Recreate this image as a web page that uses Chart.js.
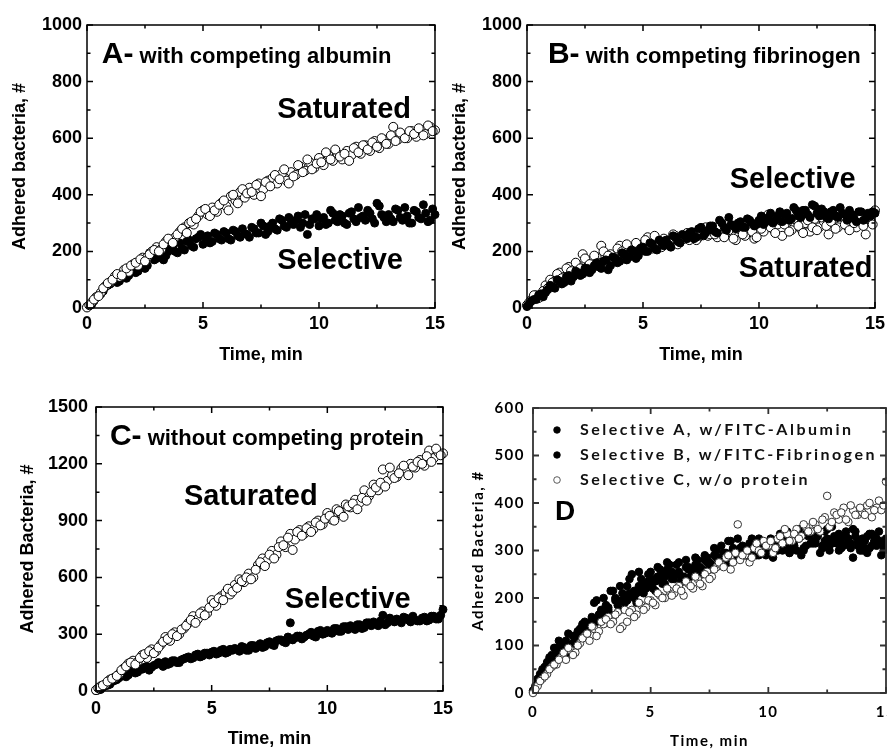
<!DOCTYPE html>
<html>
<head>
<meta charset="utf-8">
<script src="https://cdn.jsdelivr.net/npm/chart.js@4.4.1/dist/chart.umd.min.js"></script>
<style>
  html, body { margin: 0; padding: 0; background: #fff; overflow: hidden; width: 887px; height: 750px; }
  canvas { position: absolute; }
</style>
</head>
<body>
<canvas id="cA" width="450" height="375" style="left:0;top:0"></canvas>
<canvas id="cB" width="450" height="375" style="left:440px;top:0"></canvas>
<canvas id="cC" width="460" height="370" style="left:0;top:380px"></canvas>
<canvas id="cD" width="470" height="370" style="left:440px;top:380px"></canvas>
<script>
// time points, min (two interleaved sampling grids)
const time = [0,0.2,0.4,0.6,0.8,1,1.2,1.4,1.6,1.8,2,2.2,2.4,2.6,2.8,3,3.2,3.4,3.6,3.8,
  4,4.2,4.4,4.6,4.8,5,5.2,5.4,5.6,5.8,6,6.2,6.4,6.6,6.8,7,7.2,7.4,7.6,7.8,
  8,8.2,8.4,8.6,8.8,9,9.2,9.4,9.6,9.8,10,10.2,10.4,10.6,10.8,11,11.2,11.4,11.6,11.8,
  12,12.2,12.4,12.6,12.8,13,13.2,13.4,13.6,13.8,14,14.2,14.4,14.6,14.8,15];
const time2 = [0.1,0.3,0.5,0.7,0.9,1.1,1.3,1.5,1.7,1.9,2.1,2.3,2.5,2.7,2.9,3.1,3.3,3.5,3.7,3.9,
  4.1,4.3,4.5,4.7,4.9,5.1,5.3,5.5,5.7,5.9,6.1,6.3,6.5,6.7,6.9,7.1,7.3,7.5,7.7,7.9,
  8.1,8.3,8.5,8.7,8.9,9.1,9.3,9.5,9.7,9.9,10.1,10.3,10.5,10.7,10.9,11.1,11.3,11.5,11.7,11.9,
  12.1,12.3,12.5,12.7,12.9,13.1,13.3,13.5,13.7,13.9,14.1,14.3,14.5,14.7,14.9];

// A - with competing albumin
const satA = [2,20,38,55,78, 92,112,110,135,128, 155,150,178,180,200, 215,208,235,240,250,
  270,285,300,295,325, 345,330,355,340,372, 360,395,380,410,390, 425,400,440,420,450,
  460,440,475,450,480, 470,500,485,515,495, 530,505,540,520,545, 525,555,540,570,545,
  575,555,590,565,595, 580,640,595,610,600, 625,605,630,615,640, 628];
const satA2 = [10,30,42,70,88, 100,120,115,140,150, 160,172,165,190,205, 200,225,245,230,260,
  280,265,305,315,340, 350,325,345,365,380, 345,400,370,420,405, 410,435,395,445,430,
  470,455,490,440,465, 505,480,525,490,510, 515,550,525,560,535, 545,520,565,550,575,
  560,585,570,600,580, 610,590,620,600,625, 615,635,610,645,625];
const selA = [5,12,40,50,75, 85,110,95,125,115, 140,130,165,150,185, 175,195,185,210,200,
  230,205,240,215,250, 225,255,235,260,240, 265,240,270,250,262, 250,280,265,290,270,
  300,275,310,285,305, 310,285,330,295,315, 290,320,300,335,305, 325,295,340,305,320,
  310,335,300,360,320, 330,305,345,310,325, 300,340,315,335,310, 330];
const selA2 = [8,25,45,60,80, 100,90,120,105,130, 125,150,140,195,170, 185,170,200,220,195,
  210,235,220,245,260, 250,230,265,245,270, 245,275,255,280,260, 285,265,300,260,290,
  280,315,290,320,295, 325,300,260,315,330, 315,295,345,310,330, 300,335,315,355,325,
  345,315,370,330,305, 315,350,320,355,300, 345,320,365,305,350];

// B - with competing fibrinogen
const selB = [5,25,30,50,55, 80,70,95,90,115, 110,125,120,140,135, 160,140,170,150,175,
  165,190,180,200,185, 215,200,225,205,230, 240,215,250,230,255, 265,245,280,255,275,
  290,265,300,275,295, 280,305,285,310,290, 310,295,320,300,325, 305,335,315,345,320,
  345,320,360,325,340, 315,345,320,335,310, 330,305,340,315,325, 335];
const selB2 = [15,30,45,40,65, 75,100,85,110,95, 130,115,140,125,150, 145,165,135,180,160,
  195,170,205,175,210, 200,230,210,240,220, 225,255,235,260,245, 270,250,285,265,290,
  270,310,285,320,290, 300,285,315,300,295, 325,305,335,310,340, 330,310,355,325,345,
  330,365,335,350,320, 340,325,355,330,345, 315,340,310,335,340];
const satB = [10,30,45,40,80, 100,95,125,110,145, 135,150,190,145,170, 180,220,165,190,175,
  220,190,205,215,200, 225,250,210,230,215, 240,220,255,235,245, 240,265,250,280,255,
  275,250,285,260,270, 240,285,255,290,245, 300,270,330,280,295, 255,300,275,310,280,
  300,270,315,285,305, 260,310,285,320,290, 315,285,330,260,310, 345];
const satB2 = [20,45,35,60,70, 90,120,105,140,130, 160,140,175,155,185, 160,200,185,175,210,
  200,225,195,230,210, 240,215,255,225,245, 235,260,225,250,265, 255,240,270,285,260,
  260,290,250,275,245, 280,260,295,270,250, 280,305,285,265,310, 295,270,315,290,265,
  310,285,275,320,290, 305,280,325,295,275, 300,325,290,315,295];

// C - without competing protein
const satC = [5,25,35,60,70, 90,120,145,160,155, 190,175,220,210,245, 285,265,310,300,330,
  360,395,380,420,410, 480,450,500,520,510, 560,590,575,620,600, 665,700,690,740,720,
  790,760,830,800,850, 830,870,855,900,880, 940,905,960,935,985, 970,1010,995,1060,1030,
  1090,1060,1170,1110,1140, 1130,1175,1160,1200,1180, 1220,1190,1270,1230,1260, 1255];
const satC2 = [15,30,50,65,80, 110,130,150,140,175, 195,210,200,230,260, 275,300,290,325,345,
  375,360,410,400,440, 465,490,480,540,525, 545,580,600,590,640, 680,660,720,700,760,
  770,810,745,840,820, 860,840,890,875,910, 925,900,950,920,975, 990,960,1020,1005,1050,
  1075,1100,1080,1180,1125, 1150,1190,1140,1185,1210, 1200,1240,1210,1280,1245];
const selC = [2,8,28,35,55, 70,90,85,105,100, 115,130,125,140,145, 155,145,160,150,170,
  180,175,195,185,200, 205,195,215,200,220, 225,210,230,215,240, 240,230,255,245,265,
  270,255,360,280,290, 285,300,290,315,300, 320,305,330,315,340, 345,325,350,335,360,
  365,345,400,360,375, 380,360,385,365,375, 370,390,375,395,380, 430];
const selC2 = [5,20,30,50,60, 80,75,100,95,115, 125,110,135,150,130, 140,160,150,165,175,
  170,190,180,200,190, 210,200,220,205,215, 220,235,215,240,225, 250,235,260,240,270,
  260,285,270,290,275, 295,310,285,320,305, 310,330,315,340,325, 335,350,330,360,345,
  355,370,350,385,365, 370,390,375,395,370, 385,370,395,380,400];

// D - selective comparison
const selDA = [5,30,50,65,80, 95,85,110,100,120, 135,150,140,190,165, 200,180,215,195,210,
  225,250,210,240,230, 255,235,260,245,270, 250,275,245,265,255, 280,260,285,270,300,
  310,285,320,295,305, 290,315,300,325,295, 310,285,320,300,340, 305,325,290,335,315,
  320,295,340,310,325, 300,330,315,345,310, 325,295,335,310,320, 315];
const selDA2 = [15,40,55,75,95, 110,90,125,105,130, 145,130,160,195,175, 185,215,200,225,190,
  240,215,255,230,250, 240,265,250,275,255, 270,245,280,260,285, 265,290,275,305,285,
  295,320,300,325,310, 300,325,290,315,305, 325,300,335,310,295, 320,345,305,330,315,
  335,305,325,350,315, 320,340,305,330,315, 305,335,320,340,310];
const selDB = [2,20,40,55,70, 80,95,75,100,110, 120,130,145,135,160, 165,175,160,185,195,
  195,205,190,215,220, 225,215,240,230,250, 240,255,235,260,250, 265,250,275,260,285,
  280,295,275,300,290, 300,285,310,290,305, 295,315,300,325,310, 320,300,330,310,335,
  315,340,320,300,330, 335,310,325,285,320, 300,330,310,325,290, 325];
const selDB2 = [10,30,50,60,75, 90,105,85,120,100, 140,125,155,150,170, 180,165,195,175,205,
  210,200,225,210,235, 220,245,230,260,240, 250,235,265,245,270, 255,280,265,290,275,
  290,275,305,285,300, 295,315,300,320,290, 320,305,330,310,295, 310,325,300,335,320,
  330,310,345,315,325, 305,330,315,340,300, 320,305,330,315,300];
const openDC = [0,15,30,40,55, 60,75,70,90,85, 105,120,110,135,130, 145,160,150,170,140,
  150,175,165,185,180, 195,185,205,200,215, 210,225,205,230,220, 240,225,255,245,265,
  270,285,260,295,280, 290,275,305,300,320, 310,295,325,315,335, 320,345,330,350,340,
  355,340,370,350,380, 365,390,360,385,375, 380,395,370,390,385, 445];
const openDC2 = [8,25,35,50,60, 70,85,95,80,100, 115,125,140,120,150, 155,145,165,135,175,
  170,160,190,175,195, 190,210,200,220,205, 220,215,235,225,245, 230,250,240,260,275,
  265,290,275,355,290, 300,285,315,295,310, 320,305,330,345,320, 335,325,355,340,360,
  345,365,415,360,375, 380,365,395,375,390, 375,400,385,405,395];

const labelsD = ['Selective A, w/FITC-Albumin', 'Selective B, w/FITC-Fibrinogen', 'Selective C, w/o protein'];

const ARIAL = '"Liberation Sans", Arial, sans-serif';
const LATO = 'Lato, "Open Sans", sans-serif';

function pts(vals, vals2) {
  return time.map((t, i) => ({ x: t, y: vals[i] }))
    .concat(time2.map((t, i) => ({ x: t, y: vals2[i] })));
}
function filled(label, vals, vals2, r, order) {
  return { label, data: pts(vals, vals2), pointRadius: r, pointHoverRadius: r,
    backgroundColor: '#000', borderColor: '#000', borderWidth: 1, clip: false, order };
}
function hollow(label, vals, vals2, r, order, edge) {
  return { label, data: pts(vals, vals2), pointRadius: r, pointHoverRadius: r,
    backgroundColor: '#fff', borderColor: edge || '#000', borderWidth: 1, clip: false, order };
}

// box around the plot with inward major + minor ticks on all sides
function frameTicks(color, lw) {
  return {
    id: 'frameTicks',
    afterDraw(chart) {
      const { ctx, chartArea: a, scales } = chart;
      const marks = (sc) => {
        const out = [];
        sc.ticks.forEach((t, i) => {
          out.push([t.value, 6]);
          if (i < sc.ticks.length - 1) out.push([(t.value + sc.ticks[i + 1].value) / 2, 3.5]);
        });
        return out;
      };
      ctx.save();
      ctx.strokeStyle = color;
      ctx.lineWidth = lw;
      ctx.strokeRect(a.left, a.top, a.right - a.left, a.bottom - a.top);
      ctx.beginPath();
      marks(scales.x).forEach(([v, len]) => {
        const px = scales.x.getPixelForValue(v);
        ctx.moveTo(px, a.bottom); ctx.lineTo(px, a.bottom - len);
        ctx.moveTo(px, a.top); ctx.lineTo(px, a.top + len);
      });
      marks(scales.y).forEach(([v, len]) => {
        const py = scales.y.getPixelForValue(v);
        ctx.moveTo(a.left, py); ctx.lineTo(a.left + len, py);
        ctx.moveTo(a.right, py); ctx.lineTo(a.right - len, py);
      });
      ctx.stroke();
      ctx.restore();
    }
  };
}

// text labels placed in data coordinates
function notes(items) {
  return {
    id: 'notes',
    afterDatasetsDraw(chart) {
      const { ctx, scales: { x, y } } = chart;
      ctx.save();
      ctx.fillStyle = '#000';
      ctx.textBaseline = 'alphabetic';
      ctx.textAlign = 'left';
      items.forEach(it => {
        let px = x.getPixelForValue(it.x);
        const py = y.getPixelForValue(it.y);
        it.parts.forEach(([txt, size]) => {
          ctx.font = 'bold ' + size + 'px ' + (it.family || ARIAL);
          ctx.fillText(txt, px, py);
          px += ctx.measureText(txt).width;
        });
      });
      ctx.restore();
    }
  };
}

function makePanel(id, o) {
  const tickFont = o.tickFont || { family: ARIAL, size: 18, weight: 'bold' };
  const titleFont = o.titleFont || { family: ARIAL, size: 18, weight: 'bold' };
  return new Chart(document.getElementById(id), {
    type: 'scatter',
    data: { datasets: o.datasets },
    options: {
      responsive: false,
      animation: false,
      events: [],
      layout: { padding: o.pad },
      plugins: { legend: { display: false }, tooltip: { enabled: false } },
      scales: {
        x: {
          type: 'linear', min: 0, max: 15,
          afterFit(s) { s.height = o.xh; },
          ticks: { stepSize: 5, padding: o.xtp, font: tickFont, color: '#000', callback: v => String(v) },
          grid: { display: false, drawTicks: false },
          border: { display: false },
          title: { display: true, text: 'Time, min', font: titleFont, color: '#000',
                   padding: { top: 0, bottom: o.xtitlePad } }
        },
        y: {
          type: 'linear', min: 0, max: o.ymax,
          afterFit(s) { s.width = o.yw; },
          ticks: { stepSize: o.ystep, padding: o.ytp, font: tickFont, color: '#000', callback: v => String(v) },
          grid: { display: false, drawTicks: false },
          border: { display: false },
          title: { display: true, text: o.ytitle, font: titleFont, color: '#000',
                   padding: { top: o.ytitlePad, bottom: 0 } }
        }
      }
    },
    plugins: [frameTicks(o.frameColor || '#000', o.frameWidth || 1.5), notes(o.notes)].concat(o.extra || [])
  });
}

makePanel('cA', {
  datasets: [hollow('Saturated', satA, satA2, 4.5, 0), filled('Selective', selA, selA2, 4, 1)],
  pad: { left: 0, top: 25, right: 12, bottom: 0 },
  xh: 67, yw: 87, xtp: 5, ytp: 5, xtitlePad: 9, ytitlePad: 9,
  ymax: 1000, ystep: 200, ytitle: 'Adhered bacteria, #',
  notes: [
    { x: 0.64, y: 866, parts: [['A-', 30], [' with competing albumin', 22]] },
    { x: 8.2, y: 671, parts: [['Saturated', 29]] },
    { x: 8.2, y: 138, parts: [['Selective', 29]] }
  ]
});

makePanel('cB', {
  datasets: [filled('Selective', selB, selB2, 4, 0), hollow('Saturated', satB, satB2, 4.5, 1)],
  pad: { left: 0, top: 25, right: 13, bottom: 0 },
  xh: 67, yw: 87, xtp: 5, ytp: 5, xtitlePad: 9, ytitlePad: 9,
  ymax: 1000, ystep: 200, ytitle: 'Adhered bacteria, #',
  notes: [
    { x: 0.9, y: 866, parts: [['B-', 30], [' with competing fibrinogen', 22]] },
    { x: 8.74, y: 424, parts: [['Selective', 29]] },
    { x: 9.13, y: 110, parts: [['Saturated', 29]] }
  ]
});

makePanel('cC', {
  datasets: [hollow('Saturated', satC, satC2, 4.5, 0), filled('Selective', selC, selC2, 4, 1)],
  pad: { left: 0, top: 27, right: 13, bottom: 0 },
  xh: 59, yw: 96, xtp: 7, ytp: 8, xtitlePad: 0, ytitlePad: 17,
  ymax: 1500, ystep: 300, ytitle: 'Adhered Bacteria, #',
  notes: [
    { x: 0.6, y: 1299, parts: [['C-', 30], [' without competing protein', 22]] },
    { x: 3.8, y: 982, parts: [['Saturated', 29]] },
    { x: 8.16, y: 438, parts: [['Selective', 29]] }
  ]
});

// legend drawn inside the plot area of panel D, from the datasets
const insideLegend = {
  id: 'insideLegend',
  afterDraw(chart) {
    const { ctx, chartArea: a } = chart;
    ctx.save();
    ctx.letterSpacing = '2.5px';
    ctx.font = 'bold 16px ' + LATO;
    ctx.textBaseline = 'middle';
    chart.data.datasets.forEach((ds, i) => {
      const yy = a.top + 22 + i * 25;
      ctx.beginPath();
      ctx.arc(a.left + 24, yy, 3.3, 0, Math.PI * 2);
      ctx.fillStyle = ds.backgroundColor;
      ctx.fill();
      ctx.lineWidth = 0.8;
      ctx.strokeStyle = ds.borderColor;
      ctx.stroke();
      ctx.fillStyle = '#111';
      ctx.fillText(ds.label, a.left + 47, yy);
    });
    ctx.restore();
  }
};
const spacing = {
  id: 'spacing',
  beforeLayout(chart) { chart.ctx.letterSpacing = '1.5px'; },
  beforeDraw(chart) { chart.ctx.letterSpacing = '1.5px'; }
};

makePanel('cD', {
  datasets: [
    filled(labelsD[0], selDA, selDA2, 3.8, 2),
    filled(labelsD[1], selDB, selDB2, 3.8, 1),
    hollow(labelsD[2], openDC, openDC2, 3.8, 0, '#333')
  ],
  pad: { left: 0, top: 28, right: 24, bottom: 0 },
  xh: 57, yw: 93, xtp: 10, ytp: 8, xtitlePad: 0, ytitlePad: 29,
  ymax: 600, ystep: 100, ytitle: 'Adhered Bacteria, #',
  tickFont: { family: LATO, size: 15, weight: 'bold' },
  titleFont: { family: LATO, size: 15, weight: 'bold' },
  frameColor: '#333', frameWidth: 1.8,
  notes: [
    { x: 0.93, y: 364, parts: [['D', 28]] }
  ],
  extra: [spacing, insideLegend]
});
</script>
</body>
</html>
